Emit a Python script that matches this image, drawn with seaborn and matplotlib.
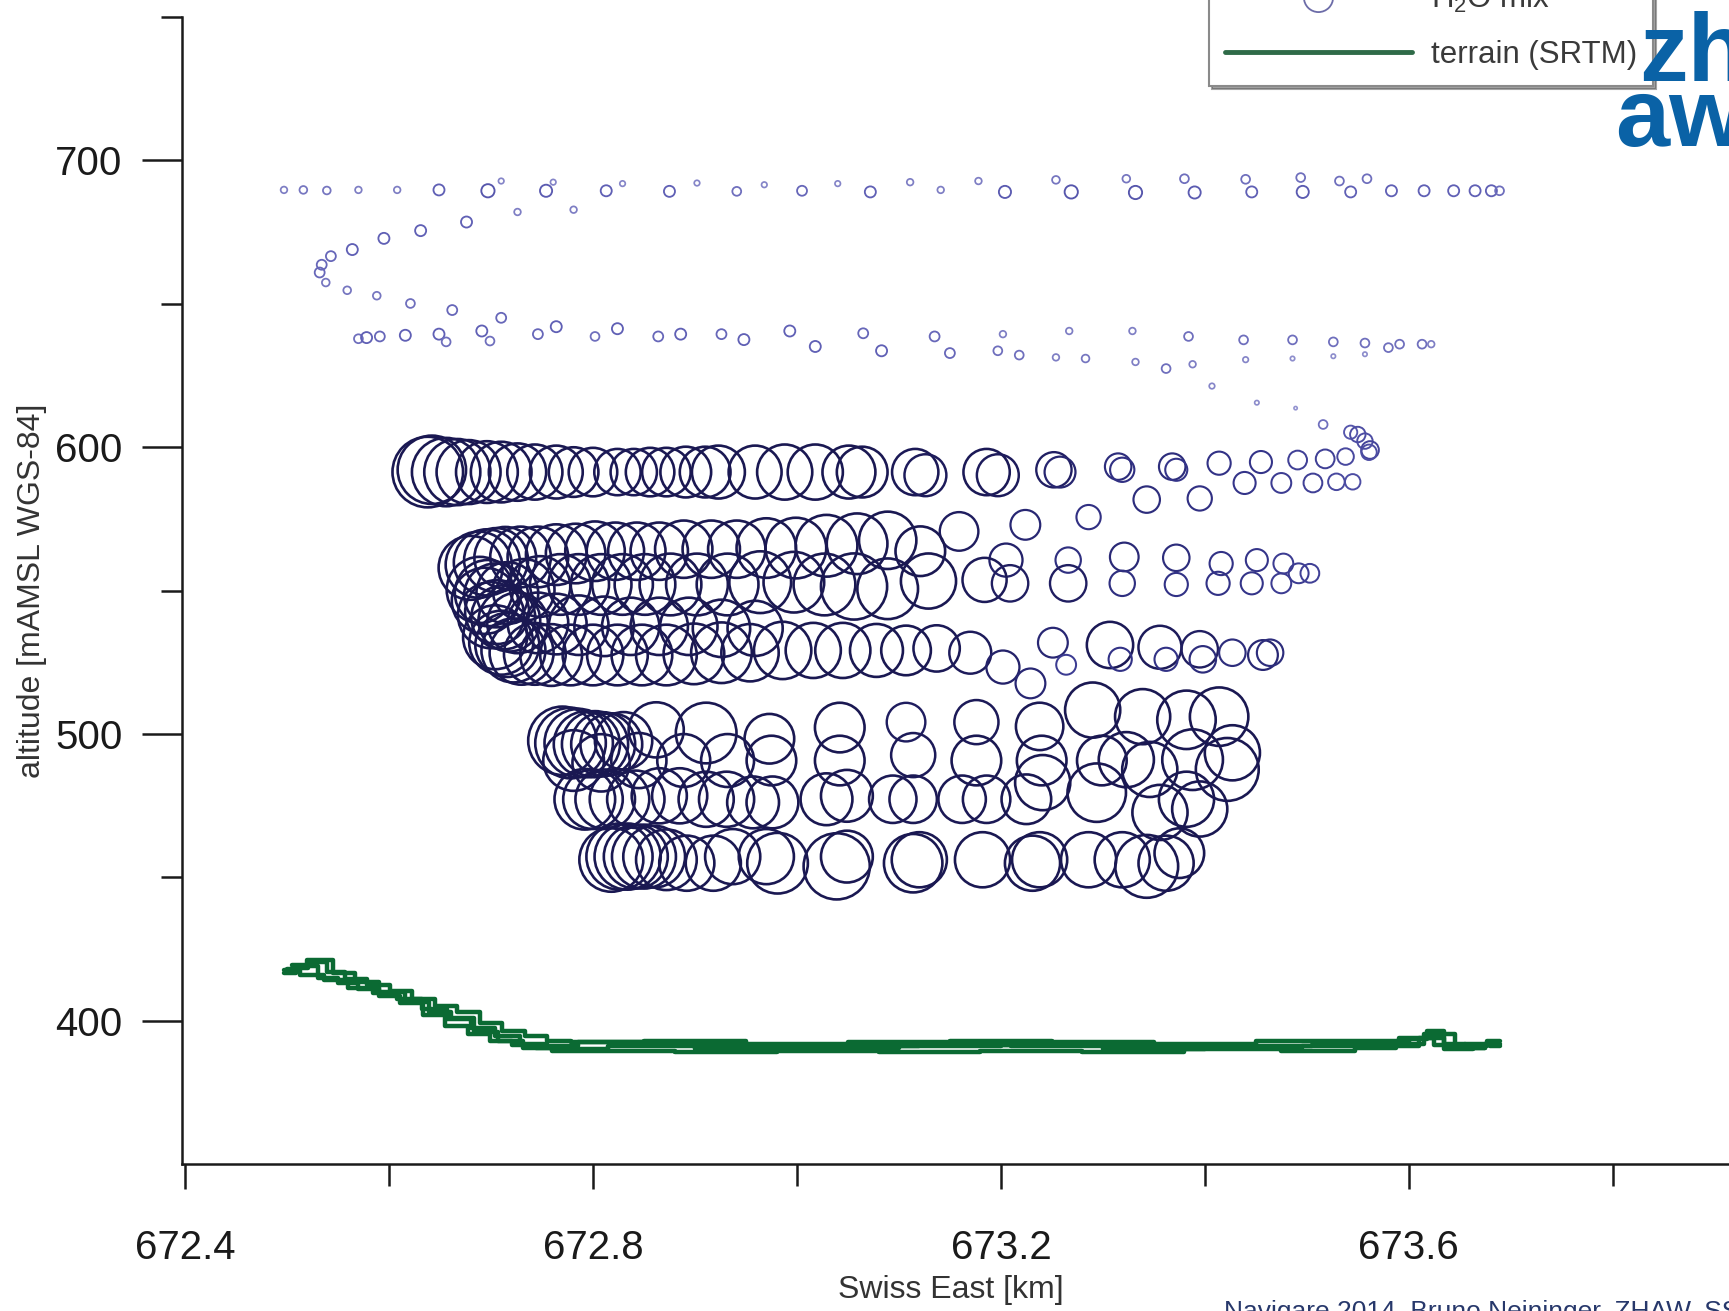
import numpy as np
import pandas as pd
import matplotlib
matplotlib.use("Agg")
import matplotlib.pyplot as plt
from matplotlib.colors import LinearSegmentedColormap
from matplotlib.lines import Line2D
from matplotlib.ticker import FixedLocator, FormatStrFormatter
import seaborn as sns

# Flight legs: Swiss East [km], altitude [m], H2O mix (relative marker value)
top_east = [672.497, 672.516, 672.539, 672.570, 672.608, 672.649, 672.697, 672.754, 672.813,
            672.875, 672.941, 673.005, 673.072, 673.141, 673.204, 673.269, 673.332, 673.390,
            673.446, 673.496, 673.543, 673.583, 673.615, 673.644, 673.665, 673.681, 673.689]
top_alt = [689.7, 689.7, 689.5, 689.7, 689.7, 689.7, 689.4, 689.4, 689.4, 689.2, 689.2, 689.4,
           689.0, 689.7, 689.0, 689.0, 688.8, 688.8, 689.0, 689.0, 689.0, 689.4, 689.4, 689.4,
           689.4, 689.4, 689.4]
top_h2o = [6, 7, 7, 6, 6, 10, 12, 11, 10, 10, 8, 9, 10, 6, 11, 12, 12, 11, 10, 11, 10, 10, 10,
           10, 10, 10, 8]

dots_east = [672.710, 672.761, 672.829, 672.902, 672.968, 673.040, 673.111, 673.178, 673.254,
             673.323, 673.380, 673.440, 673.494, 673.532, 673.559]
dots_alt = [692.8, 692.4, 691.9, 692.1, 691.5, 691.9, 692.4, 692.8, 693.2, 693.6, 693.6, 693.4,
            694.0, 692.8, 693.6]
dots_h2o = [5, 5, 5, 5, 5, 5, 6, 6, 7, 7, 8, 8, 8, 8, 8]

turn_east = [672.781, 672.726, 672.676, 672.631, 672.595, 672.564, 672.543, 672.534, 672.532,
             672.538, 672.559, 672.588, 672.621, 672.662, 672.710]
turn_alt = [682.8, 682.0, 678.5, 675.5, 672.8, 668.9, 666.6, 663.6, 660.9, 657.4, 654.7, 652.8,
            650.1, 647.8, 645.1]
turn_h2o = [6, 6, 10, 10, 10, 10, 9, 9, 9, 7, 7, 7, 8, 9, 9]

l640_east = [672.570, 672.578, 672.591, 672.616, 672.649, 672.691, 672.746, 672.764, 672.802,
             672.824, 672.864, 672.886, 672.926, 672.993, 673.065, 673.135, 673.202, 673.267,
             673.329, 673.384, 673.438, 673.486, 673.526, 673.557, 673.580, 673.591, 673.613,
             673.622]
l640_alt = [637.8, 638.2, 638.6, 639.0, 639.4, 640.5, 639.4, 642.0, 638.6, 641.3, 638.6, 639.4,
            639.4, 640.5, 639.7, 638.6, 639.4, 640.5, 640.5, 638.6, 637.4, 637.4, 636.7, 636.3,
            634.7, 635.9, 635.9, 635.9]
l640_h2o = [8, 10, 9, 10, 10, 10, 9, 10, 8, 10, 9, 10, 9, 10, 9, 9, 6, 6, 6, 8, 8, 8, 8, 8, 8,
            8, 8, 6]

l630_east = [672.656, 672.699, 672.948, 673.018, 673.083, 673.150, 673.197, 673.218, 673.254,
             673.283, 673.332, 673.362, 673.388, 673.440, 673.486, 673.526, 673.557, 673.407,
             673.451, 673.489, 673.516, 673.543, 673.557, 673.562]
l630_alt = [636.7, 637.0, 637.5, 635.1, 633.6, 632.8, 633.6, 632.1, 631.3, 630.9, 629.7, 627.4,
            628.9, 630.5, 630.9, 631.7, 632.4, 621.3, 615.5, 613.6, 607.9, 605.2, 602.1, 599.0]
l630_h2o = [8, 8, 10, 10, 10, 9, 8, 8, 6, 7, 6, 8, 6, 5, 4, 4, 4, 5, 4, 3, 8, 12, 14, 16]

l592_east = [672.638, 672.642, 672.656, 672.667, 672.678, 672.696, 672.710, 672.726, 672.743,
             672.764, 672.781, 672.800, 672.824, 672.840, 672.856, 672.872, 672.891, 672.910,
             672.923, 672.959, 672.988, 673.018, 673.051, 673.064, 673.116, 673.126, 673.186,
             673.197, 673.252, 673.258, 673.315, 673.319, 673.368, 673.372, 673.414, 673.439,
             673.455, 673.475, 673.491, 673.506, 673.518, 673.529, 673.538, 673.545, 673.550,
             673.561]
l592_alt = [591.3, 592.1, 591.3, 591.3, 591.3, 591.3, 591.3, 591.3, 591.3, 591.3, 591.3, 591.3,
            591.3, 591.3, 591.3, 591.3, 591.3, 591.3, 591.3, 591.3, 591.3, 591.3, 591.3, 591.3,
            591.3, 590.2, 591.3, 590.2, 592.1, 591.3, 593.2, 592.1, 593.2, 592.1, 594.4, 587.5,
            594.8, 587.5, 595.5, 587.5, 595.9, 587.9, 596.7, 587.9, 604.4, 598.2]
l592_h2o = [64, 62, 62, 60, 58, 56, 55, 52, 50, 48, 45, 44, 42, 42, 44, 44, 46, 46, 48, 48, 50,
            50, 48, 46, 42, 38, 42, 38, 32, 28, 24, 22, 24, 20, 21, 20, 20, 18, 17, 17, 17, 15,
            15, 14, 14, 14]

climb_east = [673.159, 673.224, 673.286, 673.343, 673.395]
climb_alt = [570.6, 572.9, 575.6, 581.7, 582.1]
climb_h2o = [35, 27, 22, 24, 22]

l560_east = [672.680, 672.688, 672.696, 672.705, 672.714, 672.729, 672.746, 672.764, 672.783,
             672.802, 672.822, 672.843, 672.865, 672.889, 672.916, 672.941, 672.970, 672.999,
             673.029, 673.059, 673.089, 673.121, 673.205, 673.266, 673.321, 673.372, 673.416,
             673.451, 673.477, 673.492, 673.503]
l560_alt = [557.9, 559.0, 559.8, 560.6, 561.4, 561.7, 561.7, 562.5, 562.9, 563.7, 563.7, 563.7,
            563.7, 564.4, 564.4, 564.4, 564.8, 564.8, 565.6, 566.3, 567.5, 563.7, 560.6, 560.6,
            561.7, 561.4, 559.4, 560.6, 559.4, 556.0, 556.0]
l560_h2o = [58, 60, 60, 58, 56, 55, 55, 55, 54, 54, 52, 52, 52, 52, 52, 52, 54, 55, 56, 55, 52,
            45, 30, 23, 26, 24, 21, 20, 18, 18, 17]

l552_east = [672.689, 672.697, 672.705, 672.716, 672.732, 672.748, 672.768, 672.786, 672.808,
             672.829, 672.851, 672.876, 672.902, 672.932, 672.964, 672.997, 673.027, 673.056,
             673.089, 673.129, 673.184, 673.209, 673.266, 673.319, 673.372, 673.413, 673.446,
             673.475]
l552_alt = [550.2, 549.1, 548.3, 549.1, 550.2, 551.4, 552.1, 552.1, 552.1, 552.1, 552.1, 552.1,
            552.1, 552.1, 552.9, 552.9, 552.1, 551.4, 550.6, 553.3, 553.7, 552.5, 552.5, 552.5,
            552.1, 552.5, 552.5, 552.5]
l552_h2o = [60, 60, 58, 56, 56, 55, 55, 55, 55, 55, 55, 56, 56, 56, 56, 55, 56, 60, 55, 50, 40,
            33, 33, 23, 21, 21, 20, 18]

l538_east = [672.694, 672.700, 672.706, 672.712, 672.718, 672.726, 672.746, 672.764, 672.786,
             672.811, 672.837, 672.865, 672.894, 672.926, 672.959]
l538_alt = [546.4, 541.4, 542.5, 540.6, 539.5, 538.7, 538.7, 538.3, 537.9, 537.5, 537.5, 537.5,
            537.5, 536.8, 536.8]
l538_h2o = [60, 60, 58, 58, 56, 55, 55, 55, 54, 54, 52, 52, 52, 52, 50]

l528_east = [672.704, 672.710, 672.716, 672.722, 672.730, 672.743, 672.759, 672.778, 672.800,
             672.824, 672.848, 672.872, 672.899, 672.926, 672.954, 672.986, 673.016, 673.045,
             673.078, 673.107, 673.137, 673.170, 673.251, 673.307, 673.356, 673.395, 673.427,
             673.457, 673.464]
l528_alt = [533.7, 531.8, 531.0, 529.1, 528.3, 527.9, 527.5, 527.5, 527.5, 527.5, 527.5, 527.5,
            527.9, 528.3, 528.3, 529.1, 529.1, 529.1, 529.1, 529.1, 529.8, 528.3, 531.8, 531.0,
            530.2, 529.5, 528.3, 527.5, 528.3]
l528_h2o = [58, 58, 58, 58, 58, 56, 56, 55, 55, 55, 55, 55, 55, 55, 52, 52, 50, 50, 48, 45, 42,
            38, 27, 42, 39, 33, 24, 27, 24]

l522_east = [673.202, 673.229, 673.264, 673.317, 673.362, 673.398]
l522_alt = [523.3, 517.6, 524.1, 526.0, 526.0, 526.0]
l522_h2o = [30, 27, 18, 21, 21, 24]

l497_east = [672.770, 672.778, 672.786, 672.794, 672.802, 672.810, 672.818, 672.830, 672.862,
             672.911, 672.973, 673.042, 673.107, 673.176, 673.238, 673.290, 673.339, 673.382,
             673.414]
l497_alt = [497.6, 496.8, 496.8, 496.4, 496.4, 496.4, 496.4, 497.6, 501.4, 500.3, 498.3, 502.2,
            504.1, 504.1, 502.6, 508.3, 506.0, 504.9, 506.0]
l497_h2o = [62, 64, 62, 60, 60, 58, 56, 52, 50, 55, 45, 45, 35, 40, 43, 50, 50, 53, 53]

l491_east = [672.781, 672.808, 672.845, 672.889, 672.932, 672.975, 673.042, 673.114, 673.176,
             673.240, 673.299, 673.323, 673.346, 673.388, 673.422, 673.427]
l491_alt = [490.7, 489.9, 490.7, 490.7, 490.7, 490.7, 490.7, 492.6, 490.7, 490.7, 490.7, 491.0,
            487.6, 491.0, 487.6, 493.4]
l491_h2o = [55, 52, 50, 48, 48, 45, 45, 40, 45, 45, 45, 50, 50, 55, 57, 50]

l477_east = [672.792, 672.800, 672.812, 672.826, 672.842, 672.865, 672.885, 672.911, 672.931,
             672.957, 672.976, 673.029, 673.049, 673.094, 673.114, 673.162, 673.186, 673.225,
             673.241, 673.294, 673.356, 673.382, 673.395]
l477_alt = [477.2, 477.2, 477.2, 477.2, 477.2, 478.4, 478.4, 477.2, 477.2, 476.1, 476.1, 477.2,
            478.4, 477.2, 477.2, 477.2, 477.2, 477.2, 483.0, 479.5, 472.6, 477.2, 473.8]
l477_h2o = [55, 54, 54, 54, 52, 50, 50, 50, 50, 47, 47, 47, 47, 43, 43, 43, 43, 45, 50, 53, 50,
            50, 50]

l456_east = [672.818, 672.826, 672.834, 672.842, 672.850, 672.860, 672.872, 672.892, 672.918,
             672.937, 672.970, 672.981, 673.039, 673.049, 673.114, 673.120, 673.182, 673.231,
             673.238, 673.286, 673.319, 673.343, 673.362, 673.375]
l456_alt = [456.1, 457.2, 457.2, 457.2, 457.2, 457.2, 456.1, 454.9, 454.9, 457.2, 457.2, 454.9,
            453.8, 457.2, 454.9, 456.1, 456.1, 454.9, 456.1, 456.1, 456.1, 453.8, 454.9, 458.4]
l456_h2o = [58, 60, 60, 58, 58, 56, 55, 50, 50, 50, 50, 55, 60, 47, 53, 50, 50, 50, 50, 50, 50,
            57, 50, 45]

# SRTM terrain below the flight track (one trace per pass)
terr1_east = [672.497, 672.512, 672.530, 672.548, 672.566, 672.590, 672.612, 672.634, 672.656,
              672.678, 672.700, 672.722, 672.744, 672.766, 672.790, 672.82, 672.90, 673.00,
              673.08, 673.16, 673.26, 673.36, 673.46, 673.55, 673.59, 673.61, 673.625, 673.645,
              673.665, 673.689]
terr1_alt = [417.5, 418.5, 420.5, 417.0, 414.5, 412.5, 410.5, 407.5, 405.0, 403.0, 399.0, 396.5,
             394.5, 393.0, 392.5, 392.5, 391.5, 391.0, 391.0, 391.5, 391.0, 391.0, 391.0, 391.5,
             392.5, 393.5, 396.5, 392.0, 391.0, 393.0]
terr2_east = [672.497, 672.520, 672.540, 672.560, 672.580, 672.600, 672.622, 672.644, 672.666,
              672.688, 672.710, 672.732, 672.756, 672.78, 672.85, 672.95, 673.05, 673.15,
              673.25, 673.35, 673.45, 673.54, 673.58, 673.60, 673.63, 673.66, 673.689]
terr2_alt = [416.5, 419.0, 415.0, 413.0, 411.0, 408.5, 406.0, 402.0, 398.0, 395.5, 393.0, 391.5,
             390.5, 390.0, 391.0, 390.0, 390.5, 391.0, 391.5, 390.0, 390.5, 391.0, 391.5, 392.0,
             395.5, 390.5, 392.0]
terr3_east = [672.500, 672.525, 672.548, 672.572, 672.596, 672.620, 672.645, 672.668, 672.692,
              672.716, 672.740, 672.770, 672.80, 672.90, 673.00, 673.10, 673.20, 673.30,
              673.40, 673.50, 673.57, 673.61, 673.64, 673.67, 673.689]
terr3_alt = [418.0, 416.0, 414.0, 411.5, 409.5, 407.5, 404.0, 400.5, 397.5, 394.5, 392.0, 391.0,
             392.5, 393.0, 392.0, 392.5, 393.0, 392.5, 392.0, 393.0, 393.0, 394.0, 391.5, 392.0,
             391.0]
terr4_east = [672.505, 672.535, 672.555, 672.578, 672.603, 672.628, 672.650, 672.672, 672.695,
              672.718, 672.745, 672.775, 672.83, 672.93, 673.03, 673.13, 673.23, 673.33,
              673.43, 673.52, 673.575, 673.60, 673.62, 673.65, 673.675]
terr4_alt = [419.5, 421.0, 416.5, 413.5, 410.0, 406.5, 403.0, 401.0, 396.0, 393.0, 390.5, 389.5,
             389.5, 389.0, 389.5, 389.0, 389.5, 389.0, 390.0, 389.5, 390.5, 391.0, 394.0, 390.0,
             390.5]

X_MAJOR = [672.4, 672.8, 673.2, 673.6]
X_MINOR = [672.6, 673.0, 673.4, 673.8]
Y_MAJOR = [400, 500, 600, 700]
Y_MINOR = [450, 550, 650, 750]

TERRAIN_COLOR = "#0b6a33"
LOGO_BLUE = "#0a62a6"


def build_flight():
    legs = [
        ("top", top_east, top_alt, top_h2o),
        ("dots", dots_east, dots_alt, dots_h2o),
        ("turn", turn_east, turn_alt, turn_h2o),
        ("l640", l640_east, l640_alt, l640_h2o),
        ("l630", l630_east, l630_alt, l630_h2o),
        ("l592", l592_east, l592_alt, l592_h2o),
        ("climb", climb_east, climb_alt, climb_h2o),
        ("l560", l560_east, l560_alt, l560_h2o),
        ("l552", l552_east, l552_alt, l552_h2o),
        ("l538", l538_east, l538_alt, l538_h2o),
        ("l528", l528_east, l528_alt, l528_h2o),
        ("l522", l522_east, l522_alt, l522_h2o),
        ("l497", l497_east, l497_alt, l497_h2o),
        ("l491", l491_east, l491_alt, l491_h2o),
        ("l477", l477_east, l477_alt, l477_h2o),
        ("l456", l456_east, l456_alt, l456_h2o),
    ]
    frames = [pd.DataFrame({"east": e, "alt": a, "h2o": h, "leg": n}) for n, e, a, h in legs]
    return pd.concat(frames, ignore_index=True)


def build_terrain():
    tracks = [(terr1_east, terr1_alt), (terr2_east, terr2_alt),
              (terr3_east, terr3_alt), (terr4_east, terr4_alt)]
    frames = [pd.DataFrame({"east": e, "alt": a, "track": i}) for i, (e, a) in enumerate(tracks)]
    return pd.concat(frames, ignore_index=True)


def main():
    sns.set_theme(style="ticks")
    plt.rcParams["font.family"] = ["Liberation Sans", "DejaVu Sans"]
    plt.rcParams["mathtext.fontset"] = "custom"
    plt.rcParams["mathtext.rm"] = "Liberation Sans"
    plt.rcParams["mathtext.it"] = "Liberation Sans"

    flight = build_flight()
    flight["area"] = flight["h2o"] ** 2
    terrain = build_terrain()

    fig = plt.figure(figsize=(17.29, 13.11), dpi=100)
    ax = fig.add_axes([182 / 1729, 1 - 1164 / 1311, 1 - 182 / 1729, 1147 / 1311])

    # terrain traces
    sns.lineplot(data=terrain, x="east", y="alt", units="track", estimator=None, sort=False,
                 color=TERRAIN_COLOR, linewidth=3.2, drawstyle="steps-mid", legend=False, ax=ax)

    # H2O mix as hollow circles, diameter and shade follow the value
    cmap = LinearSegmentedColormap.from_list(
        "h2o", [(0.0, "#9494d0"), (0.17, "#5e5eb4"), (0.40, "#34348a"),
                (0.7, "#201e62"), (1.0, "#1a1852")])
    k = 0.794 ** 2
    sns.scatterplot(data=flight, x="east", y="alt", hue="h2o", size="area",
                    palette=cmap, hue_norm=(3, 45), sizes=(k * 9, k * 64 ** 2),
                    size_norm=(9, 64 ** 2), linewidth=1.6, legend=False, ax=ax)
    pts = ax.collections[-1]
    pts.set_edgecolors(pts.get_facecolors())
    pts.set_facecolors("none")
    pts.set_linewidths(np.interp(flight["h2o"], [3, 45], [1.2, 1.9]))

    ax.set_xlim(672.397, 673.914)
    ax.set_ylim(350, 750)
    ax.xaxis.set_major_locator(FixedLocator(X_MAJOR))
    ax.xaxis.set_minor_locator(FixedLocator(X_MINOR))
    ax.xaxis.set_major_formatter(FormatStrFormatter("%.1f"))
    ax.yaxis.set_major_locator(FixedLocator(Y_MAJOR))
    ax.yaxis.set_minor_locator(FixedLocator(Y_MINOR))

    ax.tick_params(axis="x", which="major", direction="out", length=18, width=1.8, pad=29,
                   labelsize=29, colors="#1a1a1a")
    ax.tick_params(axis="x", which="minor", direction="out", length=16, width=1.8,
                   colors="#1a1a1a")
    ax.tick_params(axis="y", which="major", direction="out", length=29, width=1.8, pad=14,
                   labelsize=29, colors="#1a1a1a")
    ax.tick_params(axis="y", which="minor", direction="out", length=15, width=1.8,
                   colors="#1a1a1a")
    for side in ["top", "right"]:
        ax.spines[side].set_visible(False)
    for side in ["left", "bottom"]:
        ax.spines[side].set_linewidth(1.8)
        ax.spines[side].set_color("#1a1a1a")

    ax.set_xlabel("Swiss East [km]", fontsize=23, color="#333333")
    ax.set_ylabel("altitude [mAMSL WGS-84]", fontsize=23, color="#333333")
    ax.xaxis.set_label_coords(0.4967, -0.097)
    ax.yaxis.set_label_coords(-0.087, 0.5)

    handles = [
        Line2D([], [], ls="none", marker="o", ms=21, mfc="none", mec="#6c6ca8", mew=1.3),
        Line2D([], [], color="#2f6b48", lw=3.5),
    ]
    leg = fig.legend(handles, ["H$_2$O mix", "terrain (SRTM)"], loc="lower left",
                     bbox_to_anchor=(1209 / 1729, 1 - 86 / 1311), borderaxespad=0,
                     fontsize=22.5, handlelength=6.0, handletextpad=0.6, borderpad=0.5,
                     labelspacing=0.8, frameon=True, fancybox=False, shadow=True,
                     edgecolor="#8a8a8a", framealpha=1)
    leg.get_frame().set_linewidth(1.5)
    for t in leg.get_texts():
        t.set_color("#3a3a3a")

    # logo and credit line, both cut by the figure edge
    fig.text(1639 / 1729, 1 - 81 / 1311, "zh", fontsize=70, fontweight="bold",
             color=LOGO_BLUE, va="baseline", ha="left", zorder=10)
    fig.text(1615 / 1729, 1 - 146 / 1311, "aw", fontsize=70, fontweight="bold",
             color=LOGO_BLUE, va="baseline", ha="left", zorder=10)
    fig.text(1224 / 1729, -0.006, "Navigare 2014, Bruno Neininger, ZHAW, SST", fontsize=19,
             color="#27386b", va="baseline", ha="left")

    fig.savefig("out.png", dpi=100)
    plt.close(fig)


if __name__ == "__main__":
    main()
